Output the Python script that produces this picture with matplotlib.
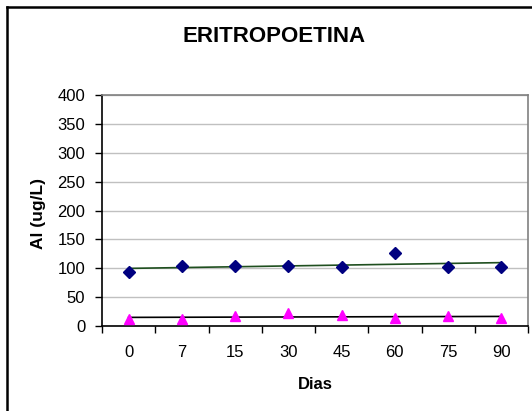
import matplotlib
matplotlib.use("Agg")
import matplotlib.pyplot as plt
from matplotlib.lines import Line2D
import numpy as np

plt.rcParams['font.family'] = ['Liberation Sans', 'DejaVu Sans']

# data
dias = ['0', '7', '15', '30', '45', '60', '75', '90']
serie_rombo = [93, 104, 104, 104, 102, 127, 102, 102]
serie_triang = [12, 12, 17, 22, 19, 14, 17, 13]
yticks = [0, 50, 100, 150, 200, 250, 300, 350, 400]

fig = plt.figure(figsize=(5.32, 4.11), dpi=100)
ax = fig.add_axes([102/532, 1 - 326/411, 426/532, 231/411])

x = np.arange(len(dias))

# linear trend lines (Excel style)
for serie, col in [(serie_rombo, '#1f4f1f'), (serie_triang, '#000000')]:
    p = np.polyfit(x, serie, 1)
    ax.plot(x, np.polyval(p, x), color=col, lw=1.2, zorder=2)

ax.plot(x, serie_rombo, ls='none', marker='D', ms=6, color='#000080', zorder=3)
ax.plot(x, serie_triang, ls='none', marker='^', ms=7.5, color='#ff00ff', zorder=3)

ax.set_xlim(-0.5, len(dias) - 0.5)
ax.set_ylim(0, 400)
ax.set_yticks(yticks)
ax.set_xticks(x)
ax.set_xticklabels(dias)
ax.set_xticks(np.arange(len(dias) + 1) - 0.5, minor=True)
ax.tick_params(axis='x', which='major', length=0, pad=14, labelsize=12)
ax.tick_params(axis='x', which='minor', length=5, width=1, direction='out')
ax.tick_params(axis='y', length=5, width=1, direction='out', pad=7, labelsize=12)

ax.grid(axis='y', color='#c0c0c0', lw=1)
ax.set_axisbelow(True)
for s in ['top', 'right']:
    ax.spines[s].set_color('#808080')
    ax.spines[s].set_linewidth(1.2)
for s in ['left', 'bottom']:
    ax.spines[s].set_color('black')
    ax.spines[s].set_linewidth(1.2)

fig.text(274/532, 1 - 36/411, 'ERITROPOETINA', ha='center', va='center',
         fontsize=16, fontweight='bold')
fig.text(38/532, 1 - 213/411, 'Al (ug/L)', ha='center', va='center',
         rotation=90, fontsize=12.5, fontweight='bold')
fig.text(315/532, 1 - 384/411, 'Dias', ha='center', va='center',
         fontsize=12, fontweight='bold')

# outer chart border (only top and left visible)
fig.add_artist(Line2D([7/532, 7/532], [0, 1 - 7/411], transform=fig.transFigure,
                      color='black', lw=1.8))
fig.add_artist(Line2D([7/532, 1], [1 - 7/411, 1 - 7/411], transform=fig.transFigure,
                      color='black', lw=1.8))

fig.savefig('out.png', dpi=100)
